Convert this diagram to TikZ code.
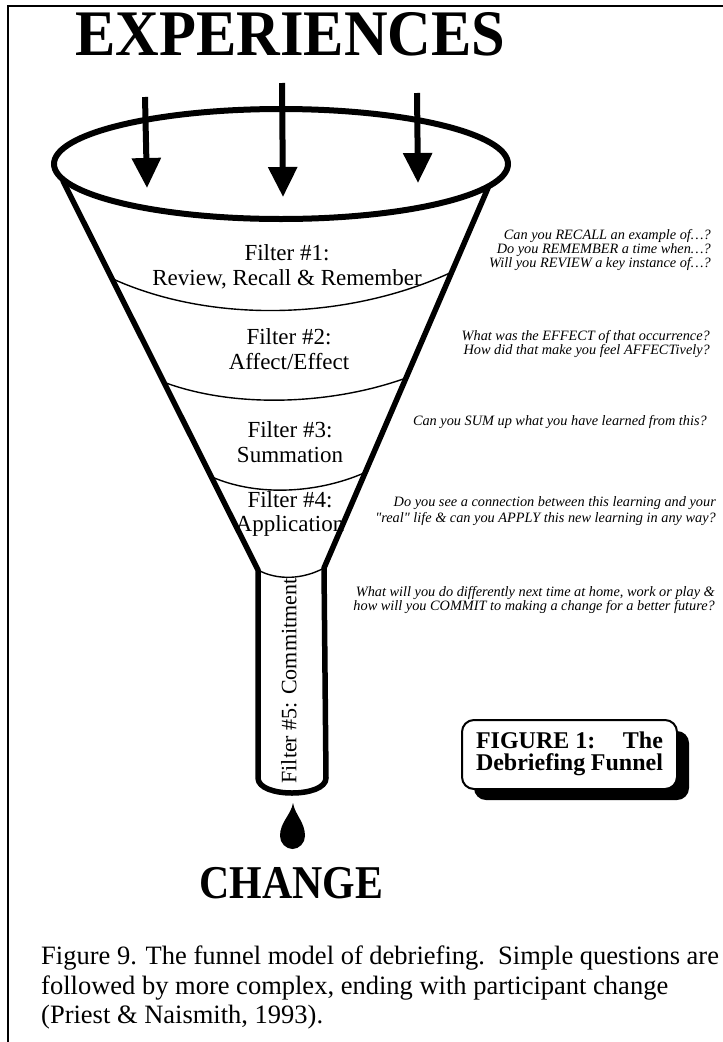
\documentclass[tikz,border=0pt]{standalone}
\usepackage{fontspec}
\setmainfont{Liberation Serif}[Ligatures=TeXOff]
\usetikzlibrary{arrows.meta,calc,shadows}
\tikzset{
  frameline/.style={line width=2pt},
  bigarrow/.style={line width=6pt,-{Triangle[width=28pt,length=30pt]}},
  wall/.style={line width=5.5pt,line join=round,line cap=round},
  band/.style={line width=1.4pt},
  filterlabel/.style={inner sep=0pt,align=center,font=\fontsize{23}{24.5}\selectfont},
  question/.style={inner sep=0pt,align=right,anchor=east,font=\itshape\fontsize{14.3}{#1}\selectfont},
  question/.default=12.5,
  bigword/.style={inner sep=0pt,anchor=base,font=\bfseries\fontsize{#1}{#1}\selectfont},
  figbox/.style={draw,line width=2pt,fill=white,rounded corners=12pt,minimum width=215pt,minimum height=69pt,inner sep=0pt,
    drop shadow={shadow xshift=12pt,shadow yshift=-11pt,fill=black,opacity=1}},
}
\begin{document}
\begin{tikzpicture}[x=1pt,y=-1pt]
\useasboundingbox (0,0) rectangle (723,1042);
% page frame
\draw[frameline] (8,1042) -- (8,6) -- (723,6);

% title
\node[bigword=65,xscale=0.93] (exp) at (290.5,55) {EXPERIENCES};

% funnel rim
\draw[line width=6pt] (281,164) ellipse [x radius=227pt, y radius=55pt];

% funnel walls and tube
\draw[wall] (63,181) -- (258,570) -- (258,778)
  .. controls (258,798) and (326,798) .. (326,778) -- (324,568) -- (488,188);

% filter bands
\draw[band] (113,279) .. controls (215,325) and (351,319) .. (452,272);
\draw[band] (166,383) .. controls (238,409) and (334,404) .. (406,378);
\draw[band] (212,477) .. controls (258,497) and (318,493) .. (364,473);
\draw[band] (258,570) .. controls (278,581) and (304,579) .. (324,568);

% experience arrows
\coordinate (a1s) at (145,97);  \coordinate (a1e) at (147,188);
\coordinate (a2s) at (282,83);  \coordinate (a2e) at (283,197);
\coordinate (a3s) at (417,93);  \coordinate (a3e) at (418,183);
\draw[bigarrow] (a1s) -- (a1e);
\draw[bigarrow] (a2s) -- (a2e);
\draw[bigarrow] (a3s) -- (a3e);

% filter labels
\node[filterlabel] (f1) at (287,267) {Filter \#1:\\Review, Recall \& Remember};
\node[filterlabel] (f2) at (289,349) {Filter \#2:\\Affect/Effect};
\node[filterlabel] (f3) at (290,442) {Filter \#3:\\Summation};
\node[filterlabel] (f4) at (290,514) {Filter \#4:\\Application};
\node[inner sep=0pt,rotate=90,font=\fontsize{22}{22}\selectfont] (f5) at (289,681) {Filter \#5: Commitment};

% questions
\node[question=12] (q1) at (711,250) {Can you RECALL an example of\dots?\\Do you REMEMBER a time when\dots?\\Will you REVIEW a key instance of\dots?};
\node[question=13.5] (q2) at (710,344) {What was the EFFECT of that occurrence?\\How did that make you feel AFFECTively?};
\node[question] (q3) at (707,422) {Can you SUM up what you have learned from this?};
\node[question=16] (q4) at (716,511) {Do you see a connection between this learning and your\\"real" life \& can you APPLY this new learning in any way?};
\node[question=13.5] (q5) at (715,600) {What will you do differently next time at home, work or play \&\\how will you COMMIT to making a change for a better future?};

% drop
\fill (293,803) .. controls (295,815) and (305,822) .. (305,836)
  .. controls (305,843) and (299,849) .. (292.5,849)
  .. controls (286,849) and (280,843) .. (280,836)
  .. controls (280,822) and (291,815) .. (293,803) -- cycle;

% change
\node[bigword=47,xscale=0.89] (chg) at (291.5,898) {CHANGE};

% figure box
\node[figbox] (fig) at (569.5,754.5) {%
  \fontsize{24}{22}\selectfont\bfseries
  \begin{tabular}{@{}l@{}}\hbox to 187pt{FIGURE 1:\hfill The}\\[-2pt]\hbox to 187pt{Debriefing\hfill Funnel}\end{tabular}};

% caption
\node[inner sep=0pt,anchor=north west,align=left,font=\fontsize{26.5}{29.5}\selectfont] (cap) at (41,946)
  {Figure 9. The funnel model of debriefing.\ \ Simple questions are\\
   followed by more complex, ending with participant change\\
   (Priest \& Naismith, 1993).};
\end{tikzpicture}
\end{document}
